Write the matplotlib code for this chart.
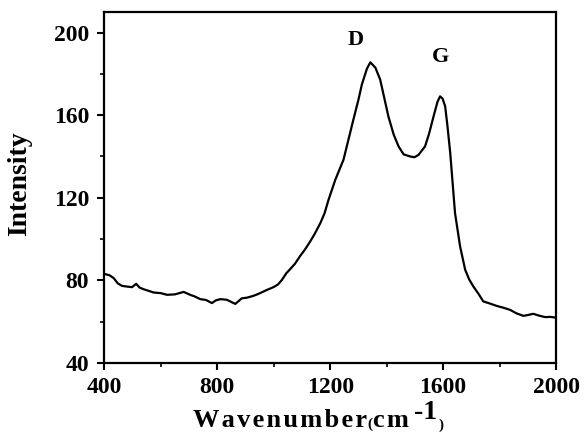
import numpy as np
import matplotlib.pyplot as plt
from matplotlib.ticker import MultipleLocator

# Raman spectrum
wavenumber = [403, 418, 433, 448, 463, 480, 498, 513, 525, 539, 555, 575, 600,
              622, 650, 681, 704, 720, 740, 760, 781, 795, 811, 834, 850, 864,
              887, 905, 928, 945, 964, 980, 999, 1015, 1029, 1045, 1058, 1075,
              1094, 1110, 1129, 1145, 1165, 1180, 1194, 1218, 1247, 1282, 1300,
              1312, 1330, 1342, 1360, 1377, 1392, 1406, 1425, 1442, 1460, 1483,
              1498, 1513, 1536, 1550, 1566, 1580, 1589, 1598, 1607, 1615, 1625,
              1642, 1660, 1678, 1692, 1707, 1725, 1742, 1765, 1790, 1812, 1837,
              1860, 1884, 1900, 1919, 1940, 1961, 1980, 1996]
intensity = [83.0, 82.5, 81.1, 78.5, 77.3, 77.0, 76.7, 78.3, 76.5, 75.7, 75.0,
             74.1, 73.8, 73.0, 73.2, 74.4, 73.0, 72.2, 70.9, 70.5, 69.0, 70.3,
             70.9, 70.6, 69.5, 68.6, 71.3, 71.6, 72.5, 73.4, 74.6, 75.6, 76.7,
             78.0, 80.2, 83.5, 85.4, 88.0, 91.9, 94.8, 98.8, 102.5, 107.7, 112.5,
             119.0, 128.7, 138.4, 157.8, 167.5, 174.8, 182.5, 185.6, 183.0,
             177.2, 168.0, 159.4, 150.5, 144.9, 141.0, 140.0, 139.6, 140.8, 144.9,
             151.0, 159.4, 166.5, 169.1, 168.0, 164.3, 155.0, 141.7, 112.6, 96.4,
             85.1, 80.5, 77.0, 73.5, 69.8, 68.8, 67.6, 66.8, 65.7, 64.0, 62.8,
             63.2, 63.8, 62.9, 62.2, 62.3, 62.0]

peak_labels = ["D", "G"]
peak_pos = [(1290, 196.5), (1590, 188)]

xticks = [400, 800, 1200, 1600, 2000]
yticks = [40, 80, 120, 160, 200]

plt.rcParams["font.family"] = ["Liberation Serif", "DejaVu Serif"]
plt.rcParams["font.weight"] = "bold"

fig = plt.figure(figsize=(5.86, 4.41), dpi=100)
ax = fig.add_axes([0.178, 0.177, 0.771, 0.796])

ax.plot(wavenumber, intensity, color="black", lw=1.6)

for lab, (px, py) in zip(peak_labels, peak_pos):
    ax.text(px, py, lab, fontsize=16, fontweight="bold", ha="center", va="center")

ax.set_xlim(400, 2000)
ax.set_ylim(40, 210)
ax.set_xticks(xticks)
ax.set_yticks(yticks)
ax.xaxis.set_minor_locator(MultipleLocator(200))
ax.yaxis.set_minor_locator(MultipleLocator(20))
ax.tick_params(which="major", direction="out", length=5, width=1.5, labelsize=17)
ax.tick_params(axis="y", which="major", pad=6)
ax.tick_params(axis="x", which="major", pad=5)
ax.tick_params(which="minor", direction="out", length=3, width=1.2)
for lbl in ax.get_xticklabels() + ax.get_yticklabels():
    lbl.set_fontweight("bold")
for sp in ax.spines.values():
    sp.set_linewidth(1.6)

ax.set_ylabel("Intensity", fontsize=20, fontweight="bold")
ax.yaxis.set_label_coords(-0.16, 0.51)

# x label built in pieces: spaced word, small "(", "cm", raised "-1", small ")"
word = fig.text(193 / 586, 9 / 441, "\u200a".join("Wavenumber"),
                fontsize=19, fontweight="bold", ha="left", va="bottom")
lpar = ax.annotate("(", xy=(1, 0), xycoords=word, xytext=(0, 1),
                   textcoords="offset points", fontsize=11, fontweight="bold",
                   ha="left", va="bottom")
cm = ax.annotate("c\u200am", xy=(1, 0), xycoords=word, xytext=(4, 0),
                 textcoords="offset points", fontsize=19, fontweight="bold",
                 ha="left", va="bottom")
sup = ax.annotate("-1", xy=(1, 0), xycoords=cm, xytext=(4, 5),
                  textcoords="offset points", fontsize=20, fontweight="bold",
                  ha="left", va="bottom")
ax.annotate(")", xy=(1, 0), xycoords=sup, xytext=(1, -5),
            textcoords="offset points", fontsize=11, fontweight="bold",
            ha="left", va="bottom")

fig.savefig("out.png", dpi=100)
